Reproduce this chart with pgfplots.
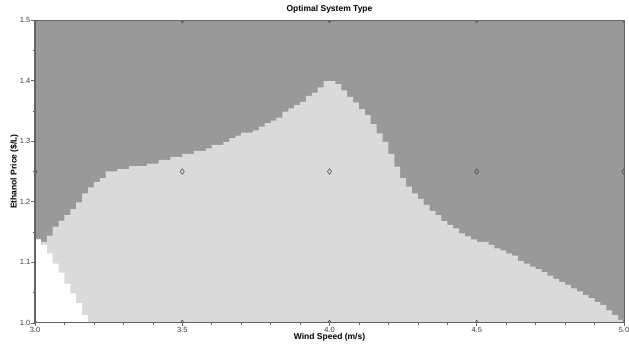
\documentclass[border=0pt]{standalone}
\usepackage{pgfplots}
\pgfplotsset{compat=1.18}
\usepackage{fontspec}
\setmainfont{Liberation Sans}
\definecolor{dk}{RGB}{153,153,153}
\definecolor{lt}{RGB}{218,218,218}
\definecolor{axc}{RGB}{100,100,100}
\definecolor{tl}{RGB}{60,60,60}
\pgfplotstableread{
x y
3.00 1.138
3.02 1.134
3.04 1.144
3.06 1.159
3.08 1.169
3.10 1.178
3.12 1.188
3.14 1.199
3.16 1.214
3.18 1.224
3.20 1.233
3.22 1.239
3.24 1.250
3.26 1.250
3.28 1.254
3.30 1.254
3.32 1.259
3.34 1.259
3.36 1.259
3.38 1.263
3.40 1.263
3.42 1.269
3.44 1.269
3.46 1.274
3.48 1.274
3.50 1.279
3.52 1.279
3.54 1.284
3.56 1.284
3.58 1.288
3.60 1.294
3.62 1.294
3.64 1.299
3.66 1.305
3.68 1.309
3.70 1.314
3.72 1.314
3.74 1.318
3.76 1.324
3.78 1.330
3.80 1.334
3.82 1.339
3.84 1.349
3.86 1.354
3.88 1.360
3.90 1.365
3.92 1.375
3.94 1.380
3.96 1.389
3.98 1.399
4.00 1.399
4.02 1.394
4.04 1.384
4.06 1.373
4.08 1.364
4.10 1.353
4.12 1.343
4.14 1.328
4.16 1.313
4.18 1.299
4.20 1.279
4.22 1.258
4.24 1.239
4.26 1.225
4.28 1.214
4.30 1.205
4.32 1.195
4.34 1.185
4.36 1.178
4.38 1.168
4.40 1.162
4.42 1.156
4.44 1.148
4.46 1.143
4.48 1.138
4.50 1.134
4.52 1.134
4.54 1.129
4.56 1.123
4.58 1.120
4.60 1.115
4.62 1.111
4.64 1.102
4.66 1.098
4.68 1.093
4.70 1.089
4.72 1.084
4.74 1.078
4.76 1.073
4.78 1.068
4.80 1.063
4.82 1.057
4.84 1.052
4.86 1.046
4.88 1.041
4.90 1.035
4.92 1.030
4.94 1.021
4.96 1.013
4.98 1.005
5.00 1.005
}\uppertab
\pgfplotstableread{
x y
3.00 1.138
3.02 1.129
3.04 1.115
3.06 1.098
3.08 1.083
3.10 1.065
3.12 1.049
3.14 1.033
3.16 1.013
3.18 1.000
}\whitetab
\begin{document}
\begin{tikzpicture}[x=1pt,y=1pt]
\path[use as bounding box] (0,0) rectangle (629,345);
\begin{axis}[
  at={(35pt,22pt)}, anchor=south west,
  width=589pt, height=303pt, scale only axis,
  xmin=3, xmax=5, ymin=1, ymax=1.5,
  axis background/.style={fill=dk},
  axis on top,
  xtick={3,3.5,4,4.5,5},
  ytick={1.0,1.1,1.2,1.3,1.4,1.5},
  minor x tick num=4,
  minor y tick num=1,
  xtick pos=bottom, ytick pos=left,
  tick align=outside,
  major tick length=3.5pt, minor tick length=2pt,
  tick style={axc, line width=0.6pt},
  axis line style={axc, line width=1pt},
  ticklabel style={font=\fontsize{7.5}{8}\selectfont, text=tl},
  xticklabel style={inner sep=0pt, yshift=-0.5pt},
  yticklabel style={inner sep=1pt},
  /pgf/number format/.cd, fixed, fixed zerofill, precision=1, assume math mode=true,
  /pgfplots/.cd,
  title={Optimal System Type},
  title style={font=\fontsize{8.5}{10}\selectfont\bfseries, at={(axis description cs:0.5,1.0099)}, anchor=base, inner sep=0pt},
  xlabel={Wind Speed (m/s)},
  xlabel style={font=\fontsize{8.5}{10}\selectfont\bfseries, at={(axis description cs:0.5,-0.0545)}, anchor=base, inner sep=0pt},
  ylabel={Ethanol Price (\$/L)},
  ylabel style={font=\fontsize{8.5}{10}\selectfont\bfseries, at={(axis description cs:-0.0314,0.5)}, anchor=base, inner sep=0pt},
  clip marker paths=true,
]
\addplot[const plot, fill=lt, draw=none] table[x=x,y=y] {\uppertab} \closedcycle;
\addplot[const plot, fill=white, draw=none] table[x=x,y=y] {\whitetab} \closedcycle;
\addplot[only marks, mark=diamond, mark size=2.8pt, mark options={draw=black!75, fill=none, line width=0.5pt}] coordinates {
(3,1) (3.5,1) (4,1) (4.5,1) (5,1)
(3,1.25) (3.5,1.25) (4,1.25) (4.5,1.25) (5,1.25)
(3,1.5) (3.5,1.5) (4,1.5) (4.5,1.5) (5,1.5)
};
\coordinate (bl) at (rel axis cs:0,0);
\coordinate (tr) at (rel axis cs:1,1);
\end{axis}
\draw[axc, line width=1pt] (bl) rectangle (tr);
\end{tikzpicture}
\end{document}
